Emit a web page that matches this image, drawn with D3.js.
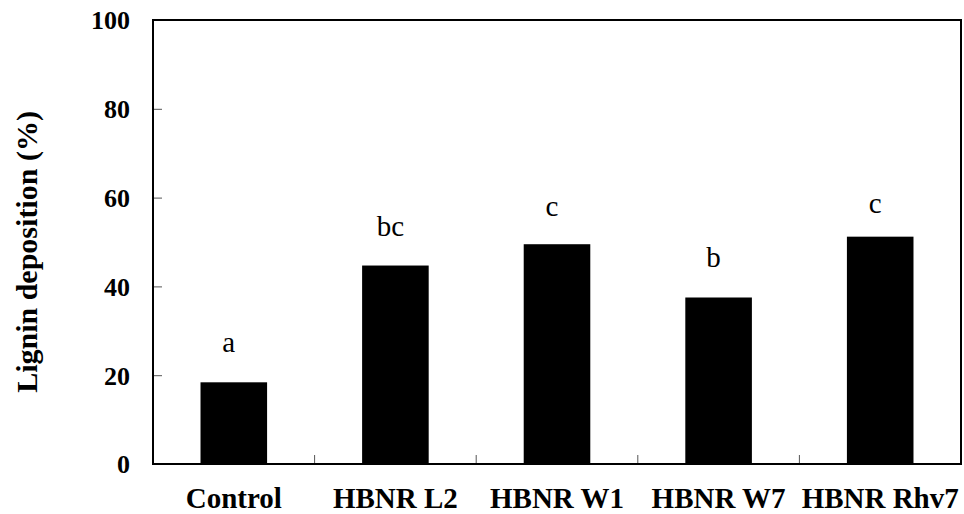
<!DOCTYPE html>
<html>
<head>
<meta charset="utf-8">
<script src="https://cdn.jsdelivr.net/npm/d3@7"></script>
<style>
  body { margin: 0; background: #fff; }
  text { font-family: "Liberation Serif", "Times New Roman", serif; }
</style>
</head>
<body>
<div class="chart"></div>
<script>
//chart data
var categories = ["Control", "HBNR L2", "HBNR W1", "HBNR W7", "HBNR Rhv7"];
var values = [18.4, 44.7, 49.5, 37.5, 51.2];
var letters = ["a", "bc", "c", "b", "c"];
var letterLevels = [25.2, 51.4, 55.9, 44.4, 56.5]; //baseline of the letters, in %
var yTicks = [0, 20, 40, 60, 80, 100];

//svg dims (plot edges in px)
var width = 964;
var height = 514;
var plotLeft = 153, plotRight = 961, plotTop = 20, plotBottom = 464;

var svg = d3.select(".chart")
            .append("svg")
            .attr("width", width)
            .attr("height", height);

//scales
var xScale = d3.scaleBand()
               .domain(categories)
               .range([plotLeft, plotRight])
               .padding(0);
var yScale = d3.scaleLinear()
               .domain([0, 100])
               .range([plotBottom, plotTop]);
var bw = xScale.bandwidth();
var barW = bw * 0.412;

//bars
svg.append("g")
   .selectAll("rect")
   .data(values)
   .enter()
   .append("rect")
   .attr("x", (d, i) => xScale(categories[i]) + (bw - barW) / 2)
   .attr("y", d => yScale(d))
   .attr("width", barW)
   .attr("height", d => yScale(0) - yScale(d))
   .attr("fill", "#000");

//significance letters
svg.append("g")
   .selectAll("text")
   .data(letters)
   .enter()
   .append("text")
   .attr("x", (d, i) => xScale(categories[i]) + bw / 2 - 5)
   .attr("y", (d, i) => yScale(letterLevels[i]))
   .attr("text-anchor", "middle")
   .style("font-size", "29px")
   .text(d => d);

//y axis, ticks pointing inward
var yAxis = d3.axisRight(yScale)
              .tickValues(yTicks)
              .tickSize(9)
              .tickFormat("");
var yG = svg.append("g")
   .attr("transform", `translate(${plotLeft}, 0)`)
   .call(yAxis);
yG.select(".domain").remove();
yG.selectAll(".tick line").attr("stroke", "#555");

svg.append("g")
   .selectAll("text")
   .data(yTicks)
   .enter()
   .append("text")
   .attr("x", plotLeft - 23)
   .attr("y", d => yScale(d))
   .attr("dy", "0.36em")
   .attr("text-anchor", "end")
   .style("font-size", "26px")
   .style("font-weight", "bold")
   .text(d => d);

//x axis ticks between categories, pointing inward
var boundaries = categories.slice(1).map(c => xScale(c));
svg.append("g")
   .selectAll("line")
   .data(boundaries)
   .enter()
   .append("line")
   .attr("x1", d => d)
   .attr("x2", d => d)
   .attr("y1", plotBottom)
   .attr("y2", plotBottom - 9)
   .attr("stroke", "#555")
   .attr("stroke-width", 1);

//category labels
svg.append("g")
   .selectAll("text")
   .data(categories)
   .enter()
   .append("text")
   .attr("x", d => xScale(d) + bw / 2)
   .attr("y", 508)
   .attr("text-anchor", "middle")
   .style("font-size", "29px")
   .style("font-weight", "bold")
   .text(d => d);

//frame
svg.append("rect")
   .attr("x", plotLeft)
   .attr("y", plotTop)
   .attr("width", plotRight - plotLeft)
   .attr("height", plotBottom - plotTop)
   .attr("fill", "none")
   .attr("stroke", "#000")
   .attr("stroke-width", 2);

//y title
svg.append("text")
   .attr("transform", `translate(37, ${(plotTop + plotBottom) / 2 + 10}) rotate(-90)`)
   .attr("text-anchor", "middle")
   .style("font-size", "30px")
   .style("font-weight", "bold")
   .text("Lignin deposition (%)");
</script>
</body>
</html>
